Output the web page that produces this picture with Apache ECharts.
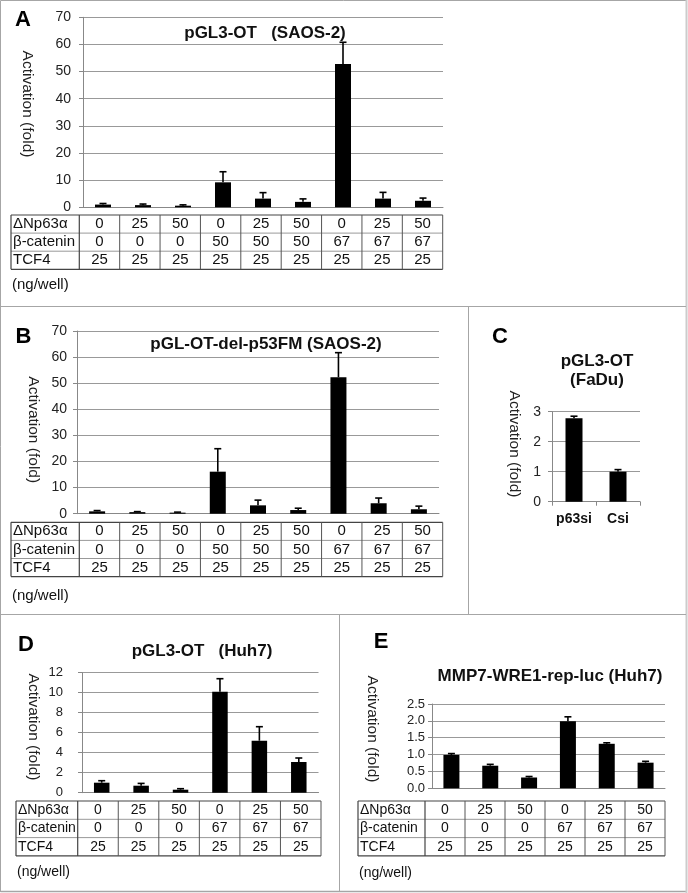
<!DOCTYPE html>
<html><head><meta charset="utf-8">
<script src="https://cdn.jsdelivr.net/npm/echarts@6/dist/echarts.min.js"></script>
<style>html,body{margin:0;padding:0;background:#fff}#c{width:688px;height:893px}</style>
</head><body><div id="c"></div>
<script>
// ---------------- data ----------------
const rowLabels = ['ΔNp63α', 'β-catenin', 'TCF4'];
// Panel A / B (SAOS-2)
const dnpAB  = [0, 25, 50, 0, 25, 50, 0, 25, 50];
const bcatAB = [0, 0, 0, 50, 50, 50, 67, 67, 67];
const tcfAB  = [25, 25, 25, 25, 25, 25, 25, 25, 25];
const valA = [1.0, 0.8, 0.6, 9.2, 3.2, 2.0, 52.8, 3.2, 2.4];
const errA = [0.4, 0.4, 0.3, 3.9, 2.2, 1.1, 8.0, 2.3, 1.0];
const valB = [0.9, 0.6, 0.4, 16.1, 3.2, 1.4, 52.3, 4.0, 1.7];
const errB = [0.3, 0.2, 0.2, 8.8, 2.0, 0.7, 9.4, 2.0, 1.2];
const ticksAB = [0, 10, 20, 30, 40, 50, 60, 70];
// Panel C (FaDu)
const catC = ['p63si', 'Csi'];
const valC = [2.78, 1.0];
const errC = [0.07, 0.07];
const ticksC = [0, 1, 2, 3];
// Panel D / E (Huh7)
const dnpDE  = [0, 25, 50, 0, 25, 50];
const bcatDE = [0, 0, 0, 67, 67, 67];
const tcfDE  = [25, 25, 25, 25, 25, 25];
const valD = [1.0, 0.7, 0.3, 10.1, 5.2, 3.07];
const errD = [0.2, 0.23, 0.1, 1.3, 1.4, 0.4];
const ticksD = [0, 2, 4, 6, 8, 10, 12];
const valE = [0.99, 0.67, 0.32, 1.99, 1.32, 0.76];
const errE = [0.04, 0.04, 0.03, 0.13, 0.03, 0.04];
const ticksE = [0, 0.5, 1.0, 1.5, 2.0, 2.5];
const titles = ['pGL3-OT   (SAOS-2)', 'pGL-OT-del-p53FM (SAOS-2)', 'pGL3-OT\n(FaDu)', 'pGL3-OT   (Huh7)', 'MMP7-WRE1-rep-luc (Huh7)'];
const letters = ['A', 'B', 'C', 'D', 'E'];
const yName = 'Activation (fold)';
const unitNote = '(ng/well)';

// ---------------- layout ----------------
const FONT = '"Liberation Sans", Arial, sans-serif';
const grids = [
  {left: 83, top: 17.3, width: 360, height: 190},
  {left: 77, top: 331, width: 362, height: 182.7},
  {left: 552, top: 411.7, width: 88, height: 90},
  {left: 82, top: 672.7, width: 236.5, height: 120},
  {left: 432, top: 704, width: 233, height: 84.3}
];
const catsAB = dnpAB.map((d, i) => d + '/' + bcatAB[i] + '/' + tcfAB[i]);
const catsDE = dnpDE.map((d, i) => d + '/' + bcatDE[i] + '/' + tcfDE[i]);
const xCats = [catsAB, catsAB, catC, catsDE, catsDE];
const vals = [valA, valB, valC, valD, valE];
const errs = [errA, errB, errC, errD, errE];
const ticks = [ticksAB, ticksAB, ticksC, ticksD, ticksE];
const labelMargin = [12, 10, 11, 19, 7];
const barW = [16, 16, 17, 15.5, 16];
const tickFs = [14, 14, 14, 13, 13];

const xAxes = xCats.map((cats, i) => ({
  type: 'category', gridIndex: i, data: cats,
  axisLine: {show: true, lineStyle: {color: '#888', width: 1}},
  axisTick: i === 2 ? {show: true, length: 4, lineStyle: {color: '#888'}} : {show: false},
  axisLabel: i === 2 ? {show: true, interval: 0, hideOverlap: false, fontFamily: FONT, fontSize: 14, fontWeight: 'bold', color: '#111', margin: 10} : {show: false},
  splitLine: {show: false}
}));
const yAxes = ticks.map((t, i) => ({
  type: 'value', gridIndex: i, min: t[0], max: t[t.length - 1], interval: t[1] - t[0],
  axisLine: {show: true, lineStyle: {color: '#888', width: 1}},
  axisTick: {show: true, length: 4, lineStyle: {color: '#888'}},
  axisLabel: {fontFamily: FONT, fontSize: tickFs[i], color: '#222', margin: labelMargin[i],
    formatter: i === 4 ? (v => v.toFixed(1)) : (v => String(v))},
  splitLine: {show: true, lineStyle: {color: '#999', width: 1}}
}));

const series = [];
vals.forEach((v, i) => {
  series.push({type: 'bar', xAxisIndex: i, yAxisIndex: i, data: v, barWidth: barW[i],
    itemStyle: {color: '#000'}, z: 2});
  series.push({type: 'custom', xAxisIndex: i, yAxisIndex: i, z: 3,
    data: v.map((val, k) => [k, val, errs[i][k]]),
    encode: {x: 0, y: 1},
    renderItem: function (params, api) {
      const k = api.value(0), val = api.value(1), e = api.value(2);
      const p0 = api.coord([k, val]);
      const p1 = api.coord([k, val + e]);
      return {type: 'group', children: [
        {type: 'line', shape: {x1: p0[0], y1: p0[1], x2: p1[0], y2: p1[1]}, style: {stroke: '#000', lineWidth: 1.6}},
        {type: 'line', shape: {x1: p1[0] - 3.5, y1: p1[1], x2: p1[0] + 3.5, y2: p1[1]}, style: {stroke: '#000', lineWidth: 1.6}}
      ]};
    }
  });
});

// ---------------- graphics: borders, letters, titles, y names, tables ----------------
const g = [];
function line(x1, y1, x2, y2, color, w) {
  g.push({type: 'line', shape: {x1, y1, x2, y2}, style: {stroke: color, lineWidth: w || 1}, silent: true});
}
function text(str, x, y, opt) {
  opt = opt || {};
  g.push({type: 'text', x, y, rotation: opt.rot || 0, silent: true,
    style: {text: str, x: 0, y: 0, fill: opt.color || '#111', font: (opt.bold ? 'bold ' : '') + (opt.fs || 14) + 'px ' + FONT,
      textAlign: opt.align || 'center', textVerticalAlign: 'middle', lineHeight: opt.lh}});
}
// panel frame
const FR = '#a6a6a6';
line(0.5, 0.5, 686, 0.5, FR, 1);
line(0.5, 0.5, 0.5, 892, FR, 1);
line(0.5, 891.5, 686, 891.5, FR, 1.5);
line(686.5, 0, 686.5, 893, '#cccccc', 2);
line(0, 306.5, 686, 306.5, FR, 1);
line(0, 614.5, 686, 614.5, FR, 1);
line(468.5, 306.5, 468.5, 614.5, FR, 1);
line(339.5, 614.5, 339.5, 892, FR, 1);

// letters
const letterPos = [[23, 20], [23.5, 337], [500, 337], [26, 645], [381, 641.5]];
letters.forEach((l, i) => text(l, letterPos[i][0], letterPos[i][1], {fs: 22, bold: true, color: '#000'}));
// titles
const titlePos = [[265, 33], [266, 344], [597, 371], [202, 651.7], [550, 676.7]];
titles.forEach((t, i) => text(t, titlePos[i][0], titlePos[i][1], {fs: 17, bold: true, color: '#111', lh: 19}));
// y axis names
const yNamePos = [[27.5, 104], [33.7, 429.7], [514, 444], [33.7, 727], [372, 729]];
yNamePos.forEach(p => text(yName, p[0], p[1], {fs: 15.5, rot: -Math.PI / 2, color: '#222'}));

// tables
function table(x0, xl, x1, y0, rh, cols, fs, noteY) {
  const n = cols[0].length;
  const cw = (x1 - xl) / n;
  const yb = y0 + rh * 3;
  line(x0, y0, x1, y0, '#444', 1.2);
  line(x0, yb, x1, yb, '#444', 1.2);
  line(x0, y0 + rh, x1, y0 + rh, '#999', 1);
  line(x0, y0 + 2 * rh, x1, y0 + 2 * rh, '#999', 1);
  line(x0, y0, x0, yb, '#444', 1.2);
  line(xl, y0, xl, yb, '#444', 1.2);
  for (let k = 1; k <= n; k++) line(xl + k * cw, y0, xl + k * cw, yb, '#555', 1);
  for (let r = 0; r < 3; r++) {
    const cy = y0 + rh * (r + 0.5);
    text(rowLabels[r], x0 + 2, cy, {fs, align: 'left', color: '#111'});
    for (let k = 0; k < n; k++) text(String(cols[r][k]), xl + (k + 0.5) * cw, cy, {fs, color: '#111'});
  }
  text(unitNote, x0 + 1, noteY, {fs, align: 'left', color: '#111'});
}
table(11, 79.3, 442.7, 215, 18.1, [dnpAB, bcatAB, tcfAB], 15, 285);
table(11, 79.3, 442.7, 522.3, 18.1, [dnpAB, bcatAB, tcfAB], 15, 596);
table(16, 77.7, 321, 801, 18.3, [dnpDE, bcatDE, tcfDE], 14, 871.7);
table(358, 425, 665, 801, 18.3, [dnpDE, bcatDE, tcfDE], 14, 873);

const chart = echarts.init(document.getElementById('c'), null, {renderer: 'canvas'});
chart.setOption({
  animation: false,
  backgroundColor: '#fff',
  grid: grids.map(gr => Object.assign({containLabel: false}, gr)),
  xAxis: xAxes,
  yAxis: yAxes,
  series: series,
  graphic: g
});
</script></body></html>
